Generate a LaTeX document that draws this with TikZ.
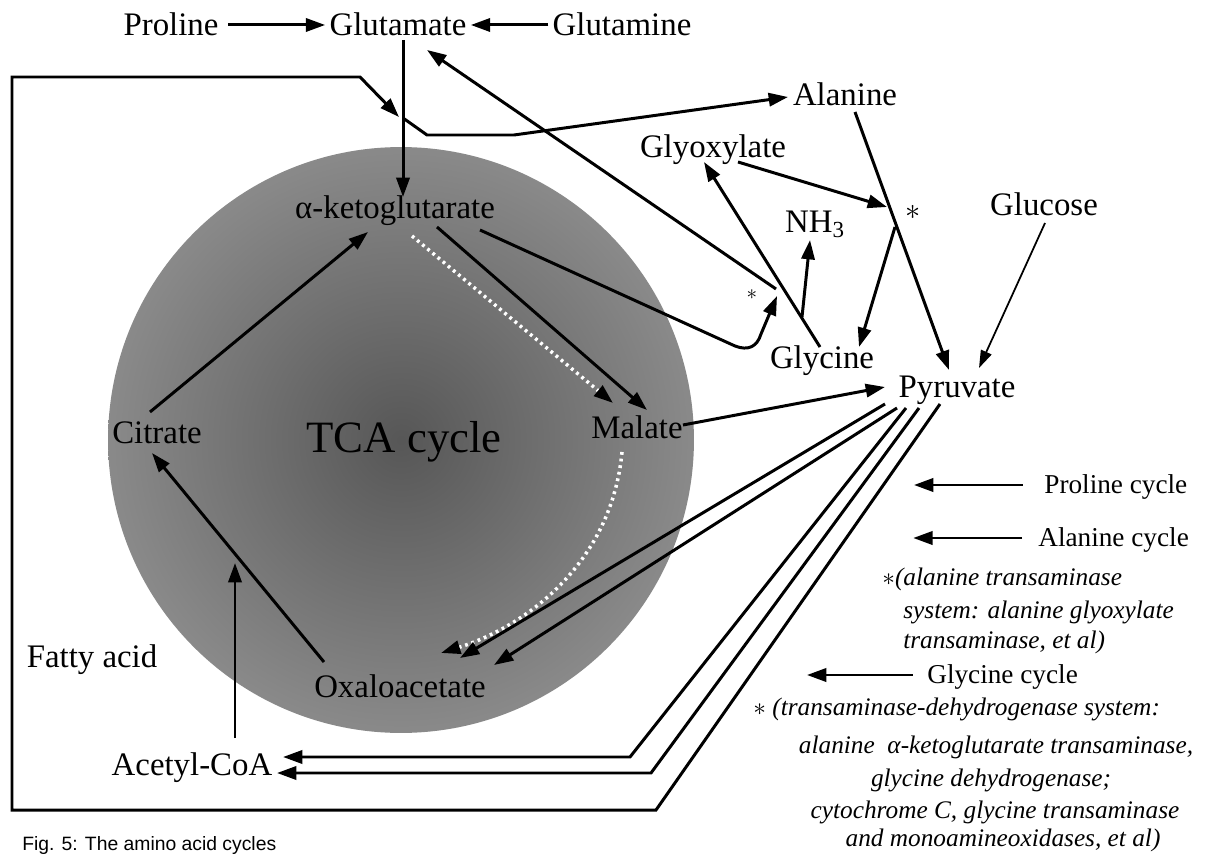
\documentclass[tikz,border=0pt]{standalone}
\usepackage{fontspec}
\setmainfont{Liberation Serif}
\setsansfont{Liberation Sans}
\usetikzlibrary{arrows.meta}
\begin{document}
\begin{tikzpicture}[x=0.02cm,y=-0.02cm,
  lab/.style={inner sep=0pt, text height=12.3pt, text depth=0pt, font=\fontsize{18.7}{22}\selectfont},
  leg/.style={inner sep=0pt, text height=10.2pt, text depth=0pt, font=\fontsize{15.5}{18}\selectfont, anchor=west},
  legi/.style={inner sep=0pt, text height=9.5pt, text depth=0pt, font=\fontsize{14.4}{17}\selectfont\itshape},
  arr/.style={line width=1.7pt, -{Triangle[length=11pt,width=7.5pt]}},
  thinarr/.style={line width=1.0pt, -{Triangle[length=10pt,width=6.5pt]}},
  pline/.style={line width=1.7pt, line join=miter},
  dotarr/.style={draw=white, line width=2pt, dash pattern=on 1.6pt off 2.2pt, -{Triangle[length=11pt,width=7.5pt,color=black]}}
]
\useasboundingbox (0,0) rectangle (1226,854);
\fill[white] (0,0) rectangle (1226,854);
% TCA disc
\shade[inner color=black!66, outer color=black!46] (401,440) circle [radius=5.86cm];

% nodes
\node[lab] (proline) at (171,25) {Proline};
\node[lab] (glutamate) at (398,25) {Glutamate};
\node[lab] (glutamine) at (622,25) {Glutamine};
\node[lab] (akg) at (395,208) {α-ketoglutarate};
\node[lab] (alanine) at (845,95) {Alanine};
\node[lab] (glyox) at (713,147) {Glyoxylate};
\node[lab] (nh3) at (815,222) {NH\textsubscript{3}};
\node[lab] (glucose) at (1044,205) {Glucose};
\node[lab] (glycine) at (822,358) {Glycine};
\node[lab] (pyruvate) at (957,387) {Pyruvate};
\node[lab] (malate) at (637,428) {Malate};
\node[lab] (citrate) at (157,433) {Citrate};
\node[lab, text height=16.8pt, font=\fontsize{25.5}{30}\selectfont] (tca) at (404,438) {TCA cycle};
\node[lab] (oxalo) at (400,687) {Oxaloacetate};
\node[lab] (fatty) at (92,657) {Fatty acid};
\node[lab] (acetyl) at (192,765) {Acetyl-CoA};
\node[inner sep=0pt, font=\fontsize{18}{20}\selectfont] (star1) at (913,212) {$\ast$};
\node[inner sep=0pt, font=\fontsize{13}{15}\selectfont] (star2) at (752,295) {$\ast$};

% legend
\node[leg] (lpro) at (1044,485) {Proline cycle};
\node[leg] (lala) at (1038,538) {Alanine cycle};
\node[legi, anchor=west] (la1) at (882,577) {$\ast$(alanine transaminase};
\node[legi, anchor=west] (la2) at (903,610) {system: alanine glyoxylate};
\node[legi, anchor=west] (la3) at (903,640) {transaminase, et al)};
\node[leg] (lgly) at (927,675) {Glycine cycle};
\node[legi, anchor=west] (lg1) at (753,707) {$\ast$ (transaminase-dehydrogenase system:};
\node[legi] (lg2) at (996,745) {alanine\ \ α-ketoglutarate transaminase,};
\node[legi] (lg3) at (991,778) {glycine dehydrogenase;};
\node[legi] (lg4) at (995,810) {cytochrome C, glycine transaminase};
\node[legi] (lg5) at (1003,838) {and monoamineoxidases, et al)};
\node[anchor=north west, inner sep=0pt, font=\sffamily\fontsize{11}{13}\selectfont] (cap) at (22,836) {Fig. 5: The amino acid cycles};

% coordinates
\coordinate (junc) at (776,289);
\coordinate (glyoxtip) at (704,162);

% top row
\draw[arr] ([xshift=5.5pt]proline.east) -- ([xshift=-2.3pt]glutamate.west);
\draw[arr] ([xshift=-2.3pt]glutamine.west) -- ([xshift=2.3pt]glutamate.east);
\draw[arr] (403,40) -- (403,197);
\draw[arr] (junc) -- (427,50);
\draw[arr] (480,230) -- (735,346) .. controls (748,351) and (757,347) .. (761,334) -- (777,296);

% right part
\draw[arr] (855,112) -- (949,370);
\draw[arr] (738,162) -- (887,207);
\draw[arr] (895,227) -- (859,347);
\draw[thinarr] (1045,223) -- (979,368);
\draw[arr] (802,317) -- (810,240);
\draw[arr] (820,347) -- (glyoxtip);
\draw[arr] (683,425) -- (885,387);

% TCA cycle
\draw[arr] (150,412) -- (368,232);
\draw[arr] (324,662) -- (152,453);
\draw[dotarr] (412,236) -- (613,403);
\draw[arr] (437,227) -- (647,410);
\draw[dotarr] (622,452) .. controls (612,560) and (530,625) .. (441,653);
\draw[arr] (235,738) -- (235,563);

% pyruvate outputs
\draw[arr] (885,404) -- (460,658);
\draw[arr] (897,408) -- (494,665);
\draw[pline, -{Triangle[length=11pt,width=7.5pt]}] (906,408) -- (630,757) -- (283,757);
\draw[pline, -{Triangle[length=11pt,width=7.5pt]}] (919,408) -- (651,773) -- (277,773);
\draw[pline, -{Triangle[length=11pt,width=7.5pt]}] (940,404) -- (656,810) -- (12,810) -- (12,77) -- (360,77) -- (399,117);
\draw[pline, -{Triangle[length=11pt,width=7.5pt]}] (403,118) -- (427,135) -- (514,135) -- (788,97);

% legend arrows
\draw[arr] ([xshift=-12pt]lpro.west) -- ++(-109,0);
\draw[arr] ([xshift=-9pt]lala.west) -- ++(-109,0);
\draw[arr] ([xshift=-8pt]lgly.west) -- ++(-106,0);
\end{tikzpicture}
\end{document}
